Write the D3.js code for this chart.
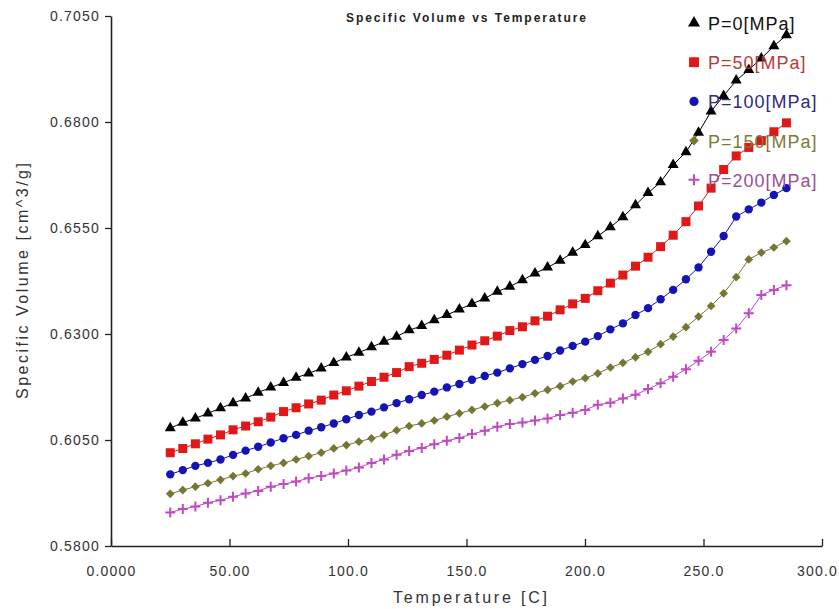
<!DOCTYPE html>
<html>
<head>
<meta charset="utf-8">
<script src="https://cdn.jsdelivr.net/npm/d3@7"></script>
<style>
  body { margin: 0; background: #fff; }
  text { font-family: Arial, "Liberation Sans", sans-serif; }
</style>
</head>
<body>
<div id="vizcontainer"></div>
<script>

const temps = [25.0, 30.3, 35.6, 40.9, 46.2, 51.5, 56.8, 62.1, 67.4, 72.8,
  78.1, 83.4, 88.7, 94.0, 99.3, 104.6, 109.9, 115.2, 120.5, 125.8,
  131.1, 136.4, 141.7, 147.0, 152.3, 157.7, 163.0, 168.3, 173.6, 178.9,
  184.2, 189.5, 194.8, 200.1, 205.4, 210.7, 216.0, 221.3, 226.6, 231.9,
  237.2, 242.6, 247.9, 253.2, 258.5, 263.8, 269.1, 274.4, 279.7, 285.0];

const p0 = [0.6078, 0.6091, 0.6101, 0.6113, 0.6125, 0.6137, 0.6148, 0.6162, 0.6174, 0.6185,
  0.6197, 0.6207, 0.6219, 0.6232, 0.6245, 0.6256, 0.6269, 0.6282, 0.6294, 0.6309,
  0.6319, 0.6333, 0.6345, 0.6358, 0.6371, 0.6384, 0.6400, 0.6412, 0.6427, 0.6443,
  0.6457, 0.6473, 0.6492, 0.6510, 0.6531, 0.6552, 0.6576, 0.6604, 0.6633, 0.6658,
  0.6699, 0.6729, 0.6775, 0.6825, 0.6862, 0.6898, 0.6923, 0.6950, 0.6979, 0.7005];

const p50 = [0.6020, 0.6030, 0.6041, 0.6052, 0.6062, 0.6074, 0.6083, 0.6093, 0.6104, 0.6117,
  0.6126, 0.6135, 0.6144, 0.6156, 0.6166, 0.6177, 0.6188, 0.6198, 0.6209, 0.6223,
  0.6231, 0.6240, 0.6250, 0.6262, 0.6274, 0.6284, 0.6295, 0.6308, 0.6317, 0.6331,
  0.6342, 0.6357, 0.6371, 0.6384, 0.6402, 0.6420, 0.6439, 0.6460, 0.6481, 0.6506,
  0.6533, 0.6565, 0.6602, 0.6644, 0.6688, 0.6720, 0.6740, 0.6756, 0.6777, 0.6798];

const p100 = [0.5969, 0.5979, 0.5989, 0.5996, 0.6004, 0.6015, 0.6025, 0.6034, 0.6044, 0.6054,
  0.6062, 0.6072, 0.6080, 0.6089, 0.6099, 0.6109, 0.6117, 0.6127, 0.6137, 0.6146,
  0.6156, 0.6164, 0.6174, 0.6182, 0.6192, 0.6201, 0.6209, 0.6219, 0.6229, 0.6239,
  0.6248, 0.6261, 0.6272, 0.6282, 0.6295, 0.6311, 0.6325, 0.6345, 0.6361, 0.6382,
  0.6404, 0.6429, 0.6457, 0.6494, 0.6531, 0.6577, 0.6594, 0.6610, 0.6628, 0.6644];

const p150 = [0.5923, 0.5932, 0.5940, 0.5948, 0.5956, 0.5965, 0.5971, 0.5981, 0.5989, 0.5996,
  0.6004, 0.6012, 0.6020, 0.6030, 0.6038, 0.6046, 0.6054, 0.6062, 0.6073, 0.6083,
  0.6089, 0.6096, 0.6105, 0.6113, 0.6121, 0.6129, 0.6137, 0.6144, 0.6151, 0.6160,
  0.6168, 0.6177, 0.6188, 0.6196, 0.6207, 0.6221, 0.6232, 0.6245, 0.6258, 0.6276,
  0.6294, 0.6316, 0.6341, 0.6366, 0.6396, 0.6434, 0.6476, 0.6492, 0.6504, 0.6519];

const p200 = [0.5879, 0.5887, 0.5893, 0.5902, 0.5908, 0.5916, 0.5924, 0.5930, 0.5940, 0.5946,
  0.5952, 0.5960, 0.5965, 0.5971, 0.5978, 0.5985, 0.5996, 0.6004, 0.6015, 0.6024,
  0.6031, 0.6040, 0.6048, 0.6055, 0.6064, 0.6072, 0.6081, 0.6088, 0.6091, 0.6096,
  0.6101, 0.6109, 0.6114, 0.6121, 0.6133, 0.6138, 0.6148, 0.6157, 0.6170, 0.6184,
  0.6199, 0.6217, 0.6237, 0.6258, 0.6286, 0.6313, 0.6349, 0.6392, 0.6404, 0.6415];

const seriesNames = ['P=0[MPa]', 'P=50[MPa]', 'P=100[MPa]', 'P=150[MPa]', 'P=200[MPa]'];

const xTicks = [0, 50, 100, 150, 200, 250, 300];
const xTickLabels = ['0.0000', '50.00', '100.0', '150.0', '200.0', '250.0', '300.0'];
const yTicks = [0.5800, 0.6050, 0.6300, 0.6550, 0.6800, 0.7050];


const
  width = 839,
  height = 609;

const series = [
  { name: seriesNames[0], values: p0, color: '#000000', text: '#111111', shape: 'triangle' },
  { name: seriesNames[1], values: p50, color: '#e01818', text: '#b83a3a', shape: 'square' },
  { name: seriesNames[2], values: p100, color: '#1414b4', text: '#2c2c7c', shape: 'circle' },
  { name: seriesNames[3], values: p150, color: '#767632', text: '#7a7a3a', shape: 'diamond' },
  { name: seriesNames[4], values: p200, color: '#c048c0', text: '#9a509a', shape: 'plus' }
];

let viz = d3.select('#vizcontainer')
  .append('svg')
  .attr('width', width)
  .attr('height', height)
  ;

const x = d3.scaleLinear()
  .domain([0, 300])
  .range([111, 822]);

const y = d3.scaleLinear()
  .domain([0.58, 0.705])
  .range([546, 16]);

// axes
const yAxis = viz.append('g')
  .attr('transform', 'translate(' + x(0) + ',0)')
  .call(d3.axisLeft(y)
    .tickValues(yTicks)
    .tickFormat(d3.format('.4f'))
    .tickSizeInner(6)
    .tickSizeOuter(0)
    .tickPadding(5));

const xAxis = viz.append('g')
  .attr('transform', 'translate(0,' + y(0.58) + ')')
  .call(d3.axisBottom(x)
    .tickValues(xTicks)
    .tickFormat((d, i) => xTickLabels[i])
    .tickSizeInner(-7)
    .tickSizeOuter(0)
    .tickPadding(20));

[xAxis, yAxis].forEach(a => {
  a.select('.domain').attr('stroke', '#222').attr('stroke-width', 1.6);
  a.selectAll('.tick line').attr('stroke', '#222').attr('stroke-width', 1.3);
  a.selectAll('.tick text')
    .attr('fill', '#333')
    .style('font-size', '14px')
    .style('letter-spacing', '1.2px');
});

// last x label sits at the right edge, nudge it in
xAxis.selectAll('.tick text')
  .filter(d => d === 300)
  .attr('dx', -5);

// title and labels
viz.append('text')
  .attr('x', 466)
  .attr('y', 22)
  .attr('text-anchor', 'middle')
  .attr('textLength', 240)
  .attr('lengthAdjust', 'spacing')
  .style('font-size', '12px')
  .style('font-weight', 'bold')
  .attr('fill', '#222')
  .text('Specific Volume vs Temperature');

viz.append('text')
  .attr('x', 470)
  .attr('y', 603)
  .attr('text-anchor', 'middle')
  .attr('textLength', 154)
  .attr('lengthAdjust', 'spacing')
  .style('font-size', '16px')
  .attr('fill', '#333')
  .text('Temperature [C]');

viz.append('text')
  .attr('transform', 'translate(28,281) rotate(-90)')
  .attr('text-anchor', 'middle')
  .attr('textLength', 236)
  .attr('lengthAdjust', 'spacing')
  .style('font-size', '16px')
  .attr('fill', '#333')
  .text('Specific Volume [cm^3/g]');

// marker shapes
function marker(g, shape, color, size) {
  const s = size || 1;
  if (shape === 'plus') {
    return g.append('path')
      .attr('d', 'M' + (-5 * s) + ',0H' + (5 * s) + 'M0,' + (-5 * s) + 'V' + (5 * s))
      .attr('fill', 'none')
      .attr('stroke', color)
      .attr('stroke-width', 2);
  }
  const types = {
    triangle: [d3.symbolTriangle, 52],
    square: [d3.symbolSquare, 81],
    circle: [d3.symbolCircle, 55],
    diamond: [d3.symbolSquare, 38]
  };
  const t = types[shape];
  return g.append('path')
    .attr('d', d3.symbol().type(t[0]).size(t[1] * s * s)())
    .attr('transform', shape === 'diamond' ? 'rotate(45)' : null)
    .attr('fill', color);
}

// lines and markers
series.forEach(sr => {
  const pts = temps.map((t, i) => ({ t: t, v: sr.values[i] }));

  viz.append('g')
    .append('path')
    .datum(pts)
    .attr('fill', 'none')
    .attr('stroke', sr.color)
    .attr('stroke-width', 1)
    .attr('d', d3.line()
      .x(d => x(d.t))
      .y(d => y(d.v))
    );

  viz.append('g')
    .selectAll('g')
    .data(pts)
    .join('g')
    .attr('transform', d => 'translate(' + x(d.t) + ',' + y(d.v) + ')')
    .each(function () { marker(d3.select(this), sr.shape, sr.color); });
});

// legend
const legend = viz.append('g');
series.forEach((sr, i) => {
  const ly = 23 + i * 39.2;
  const g = legend.append('g')
    .attr('transform', 'translate(694,' + ly + ')');
  const inner = g.append('g');
  marker(inner, sr.shape, sr.color, 1.1);
  g.append('text')
    .attr('x', 14)
    .attr('y', 7)
    .style('font-size', '18px')
    .style('letter-spacing', '1px')
    .attr('fill', sr.text)
    .text(sr.name);
});

</script>
</body>
</html>
